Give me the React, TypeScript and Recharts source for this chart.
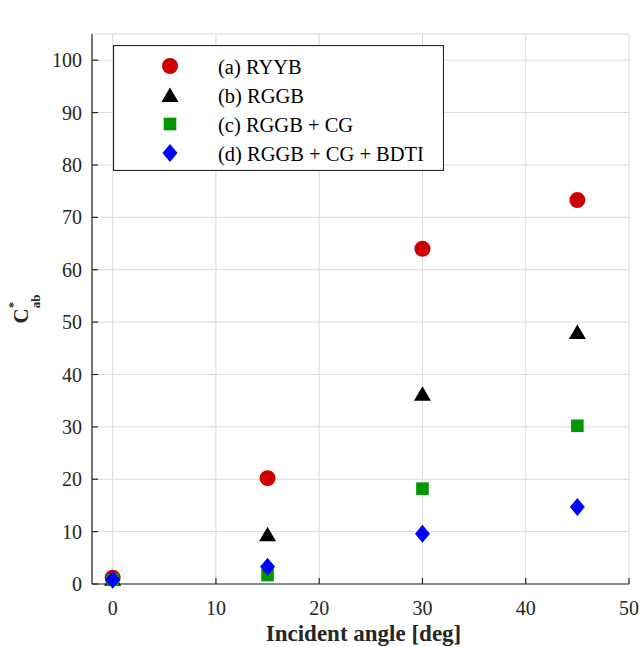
import React from "react";
import { ScatterChart, Scatter, XAxis, YAxis, CartesianGrid, Legend } from "recharts";

// incident angle [deg]
const angles = [0, 15, 30, 45];

// C*ab
const ryyb = [1.2, 20.2, 64.0, 73.3];
const rggb = [1.0, 9.5, 36.3, 48.1];
const rggbCg = [0.8, 1.7, 18.2, 30.2];
const rggbCgBdti = [0.8, 3.3, 9.6, 14.7];

const xTicks = [0, 10, 20, 30, 40, 50];
const yTicks = [0, 10, 20, 30, 40, 50, 60, 70, 80, 90, 100];

const seriesNames = ["(a) RYYB", "(b) RGGB", "(c) RGGB + CG", "(d) RGGB + CG + BDTI"];
const seriesColors = ["#cc0000", "#000000", "#009900", "#0000ff"];
const seriesMarkers = ["circle", "triangle", "square", "diamond"];
const seriesValues = [ryyb, rggb, rggbCg, rggbCgBdti];

const FONT = "Liberation Serif";
const AXIS = "#262626";

function Marker({ kind, color, cx, cy }: { kind: string; color: string; cx: number; cy: number }) {
  if (kind === "circle") return <circle cx={cx} cy={cy} r={8} fill={color} />;
  if (kind === "triangle")
    return <polygon points={`${cx},${cy - 7.5} ${cx + 8.5},${cy + 7} ${cx - 8.5},${cy + 7}`} fill={color} />;
  if (kind === "square") return <rect x={cx - 6.3} y={cy - 6.3} width={12.6} height={12.6} fill={color} />;
  return <polygon points={`${cx},${cy - 9} ${cx + 7.5},${cy} ${cx},${cy + 9} ${cx - 7.5},${cy}`} fill={color} />;
}

function LegendBox() {
  return (
    <svg width={331} height={126} style={{ display: "block" }}>
      <rect x={0.5} y={0.5} width={330} height={125} fill="#fff" stroke={AXIS} strokeWidth={1.2} />
      {seriesNames.map((name, i) => {
        const cy = 21 + i * 29;
        return (
          <g key={name}>
            <Marker kind={seriesMarkers[i]} color={seriesColors[i]} cx={57} cy={cy} />
            <text x={105} y={cy + 7.5} fontSize={20.5} style={{ fontFamily: FONT }} fill="#000">
              {name}
            </text>
          </g>
        );
      })}
    </svg>
  );
}

const tickStyle = { fontSize: 20, fill: AXIS, fontFamily: FONT, style: { fontFamily: FONT } };

export default function App() {
  const data = seriesValues.map((vals) => angles.map((a, i) => ({ x: a, y: vals[i] })));

  return (
    <div style={{ position: "absolute", left: 0, top: 0, fontFamily: FONT, background: "#fff" }}>
      <ScatterChart
        width={641}
        height={647}
        margin={{ top: 34, right: 12, bottom: 3, left: 32 }}
        style={{ fontFamily: FONT }}
      >
        <CartesianGrid stroke="#d9d9d9" strokeWidth={1} />
        <XAxis
          type="number"
          dataKey="x"
          domain={[-2, 50]}
          ticks={xTicks}
          interval={0}
          height={60}
          tickSize={-6}
          tickMargin={23}
          axisLine={{ stroke: AXIS, strokeWidth: 1.2 }}
          tickLine={{ stroke: AXIS, strokeWidth: 1.2 }}
          tick={tickStyle}
          label={(p: any) => {
            const vb = p.viewBox;
            return (
              <text x={vb.x + vb.width / 2 + 3} y={vb.y + 57} textAnchor="middle" fontSize={23} fontWeight="bold" style={{ fontFamily: FONT }} fill={AXIS}>
                Incident angle [deg]
              </text>
            );
          }}
        />
        <XAxis
          xAxisId="top"
          orientation="top"
          type="number"
          domain={[-2, 50]}
          ticks={xTicks}
          interval={0}
          height={0}
          tickSize={-6}
          tickFormatter={() => ""}
          axisLine={{ stroke: AXIS, strokeWidth: 1.2 }}
          tickLine={{ stroke: AXIS, strokeWidth: 1.2 }}
          label={(p: any) => {
            const vb = p.viewBox;
            return (
              <text x={vb.x + vb.width / 2} y={vb.y - 6} textAnchor="middle" fontSize={22} fontWeight="bold" style={{ fontFamily: FONT }} fill="#000">
                Chroma
              </text>
            );
          }}
        />
        <YAxis
          type="number"
          dataKey="y"
          domain={[0, 105]}
          ticks={yTicks}
          interval={0}
          width={60}
          tickSize={-6}
          tickMargin={16}
          axisLine={{ stroke: AXIS, strokeWidth: 1.2 }}
          tickLine={{ stroke: AXIS, strokeWidth: 1.2 }}
          tick={tickStyle}
          label={(p: any) => {
            const vb = p.viewBox;
            const cx = vb.x - 4;
            const cy = vb.y + vb.height / 2;
            return (
              <text transform={`translate(${cx},${cy}) rotate(-90)`} x={0} y={0} textAnchor="middle" fontWeight="bold" style={{ fontFamily: FONT }} fill={AXIS}>
                <tspan fontSize={21}>C</tspan>
                <tspan fontSize={13} dy={-11}>*</tspan>
                <tspan fontSize={13} dx={-6.5} dy={23}>ab</tspan>
              </text>
            );
          }}
        />
        <YAxis
          yAxisId="right"
          orientation="right"
          type="number"
          domain={[0, 105]}
          ticks={yTicks}
          interval={0}
          width={0}
          tickSize={-6}
          tickFormatter={() => ""}
          axisLine={{ stroke: AXIS, strokeWidth: 1.2 }}
          tickLine={{ stroke: AXIS, strokeWidth: 1.2 }}
        />
        <Legend
          layout="horizontal"
          verticalAlign="middle"
          align="center"
          wrapperStyle={{ left: 113, top: 45, width: 331, height: 126 }}
          content={() => <LegendBox />}
        />
        {seriesNames.map((name, i) => (
          <Scatter
            key={name}
            name={name}
            data={data[i]}
            fill={seriesColors[i]}
            isAnimationActive={false}
            shape={(p: any) => <Marker kind={seriesMarkers[i]} color={seriesColors[i]} cx={p.cx} cy={p.cy} />}
          />
        ))}
      </ScatterChart>
    </div>
  );
}
